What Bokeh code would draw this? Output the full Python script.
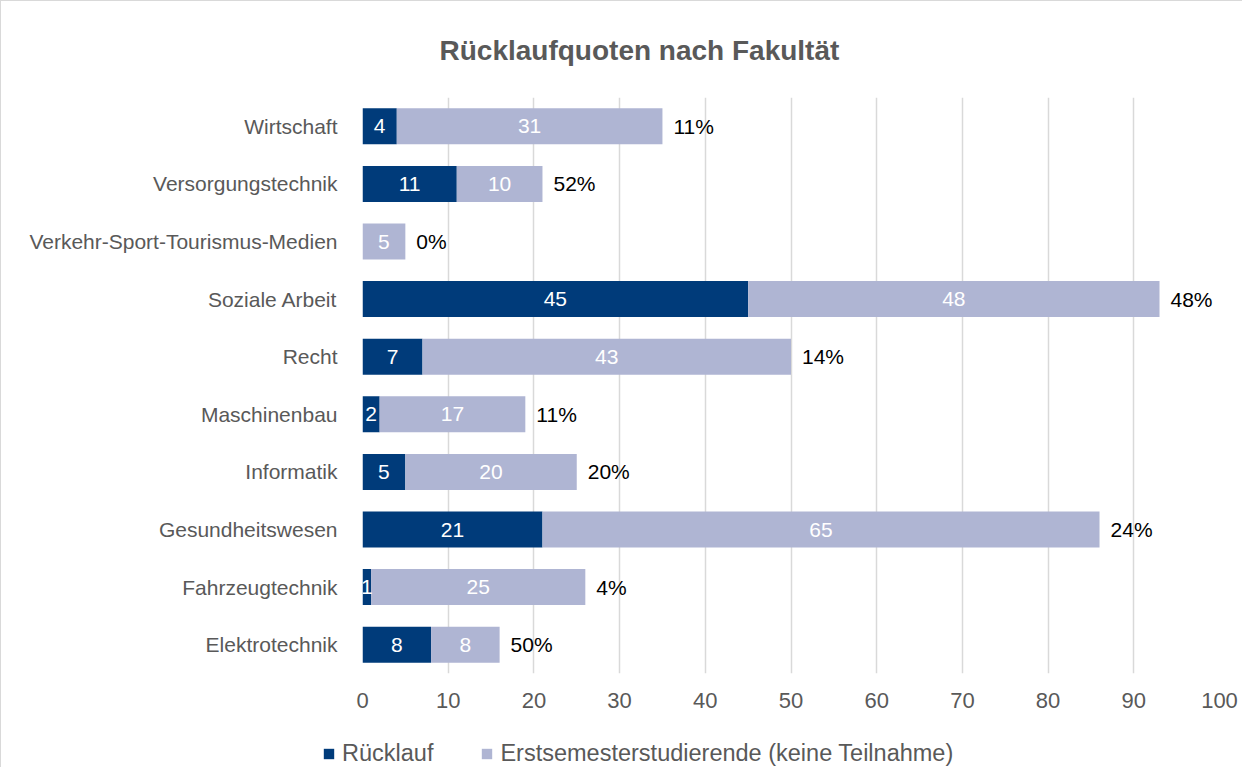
from bokeh.plotting import figure
from bokeh.layouts import column
from bokeh.models import (ColumnDataSource, FactorRange, Range1d, FixedTicker,
                          Legend, LegendItem)
from bokeh.core.properties import value
from bokeh.embed import file_html
from bokeh.resources import INLINE

# ---- data (bottom to top as drawn) ----
categories = ["Elektrotechnik", "Fahrzeugtechnik", "Gesundheitswesen", "Informatik",
              "Maschinenbau", "Recht", "Soziale Arbeit",
              "Verkehr-Sport-Tourismus-Medien", "Versorgungstechnik", "Wirtschaft"]
ruecklauf = [8, 1, 21, 5, 2, 7, 45, 0, 11, 4]
erstsemester = [8, 25, 65, 20, 17, 43, 48, 5, 10, 31]
quote_labels = ["50%", "4%", "24%", "20%", "11%", "14%", "48%", "0%", "52%", "11%"]
x_ticks = [0, 10, 20, 30, 40, 50, 60, 70, 80, 90, 100]
series_names = ["Rücklauf", "Erstsemesterstudierende (keine Teilnahme)"]
title_text = "Rücklaufquoten nach Fakultät"

DARK = "#003B7A"
LIGHT = "#AFB5D3"
GREY = "#595959"
FONT = "Liberation Sans"

r_end = [a for a in ruecklauf]
e_end = [a + b for a, b in zip(ruecklauf, erstsemester)]
src = ColumnDataSource(dict(
    cat=categories,
    l1=[0] * len(categories), r1=r_end,
    l2=r_end, r2=e_end,
    m1=[a / 2 for a in ruecklauf],
    m2=[a + b / 2 for a, b in zip(ruecklauf, erstsemester)],
    t1=[str(a) if a else "" for a in ruecklauf],
    t2=[str(b) if b else "" for b in erstsemester],
    total=e_end,
    pct=quote_labels,
))

W, H = 1241, 720
FL, FR, FT, FB = 361, 23, 96, 48

p = figure(width=W, height=H, output_backend="svg", toolbar_location=None,
           y_range=FactorRange(factors=categories, range_padding=0),
           x_range=Range1d(0, 100),
           min_border_left=FL, min_border_right=FR, min_border_top=FT,
           min_border_bottom=FB)
p.outline_line_color = None
p.background_fill_color = "white"
p.border_fill_color = "white"

r1 = p.hbar(y="cat", left="l1", right="r1", height=0.625, fill_color=DARK,
            line_color=None, source=src)
r2 = p.hbar(y="cat", left="l2", right="r2", height=0.625, fill_color=LIGHT,
            line_color=None, source=src)

p.text(x="m1", y="cat", text="t1", source=src, text_align="center",
       text_baseline="middle", text_color="white", text_font=value(FONT),
       text_font_size="21px")
p.text(x="m2", y="cat", text="t2", source=src, text_align="center",
       text_baseline="middle", text_color="white", text_font=value(FONT),
       text_font_size="21px")
p.text(x="total", y="cat", text="pct", source=src, x_offset=11, text_align="left",
       text_baseline="middle", text_color="black", text_font=value(FONT),
       text_font_size="21px")

# axes
p.xaxis.ticker = FixedTicker(ticks=x_ticks)
p.xaxis.major_label_text_font = FONT
p.xaxis.major_label_text_font_size = "22px"
p.xaxis.major_label_text_color = GREY
p.xaxis.major_tick_line_color = None
p.xaxis.minor_tick_line_color = None
p.xaxis.axis_line_color = None
p.xaxis.major_label_standoff = 13

p.yaxis.major_label_text_font = FONT
p.yaxis.major_label_text_font_size = "21px"
p.yaxis.major_label_text_color = GREY
p.yaxis.major_tick_line_color = None
p.yaxis.minor_tick_line_color = None
p.yaxis.axis_line_color = None
p.yaxis.major_label_standoff = 19

p.xgrid.grid_line_color = "#d9d9d9"
p.xgrid.grid_line_width = 1.5
p.ygrid.grid_line_color = None

# title
p.title.text = title_text
p.title.align = "left"
p.title.offset = 77
p.title.text_font = FONT
p.title.text_font_size = "28px"
p.title.text_font_style = "bold"
p.title.text_color = GREY
p.title.standoff = 63

# legend strip below the chart
lg = figure(width=W, height=46, output_backend="svg", toolbar_location=None,
            x_range=Range1d(0, 1), y_range=Range1d(0, 1),
            x_axis_location=None, y_axis_location=None, min_border=0)
lg.outline_line_color = None
lg.grid.visible = False
for fig in (p, lg):
    try:
        fig.frame_align = False
    except Exception:
        pass
# swatch renderers (kept outside the visible range; only used for the legend)
lr1 = lg.hbar(y=[-5], left=[0], right=[1], height=0.5, fill_color=DARK, line_color=None)
lr2 = lg.hbar(y=[-5], left=[0], right=[1], height=0.5, fill_color=LIGHT, line_color=None)
legend = Legend(items=[LegendItem(label=series_names[0], renderers=[lr1]),
                       LegendItem(label=series_names[1], renderers=[lr2])],
                orientation="horizontal", location=(321, 0),
                glyph_width=13, glyph_height=13, label_standoff=7, spacing=47,
                label_height=27, padding=0, margin=0, border_line_alpha=0,
                background_fill_alpha=0,
                label_text_font=FONT, label_text_font_size="23.5px",
                label_text_color=GREY)
lg.add_layout(legend)

layout = column(p, lg, spacing=0,
                styles={"border-left": "1px solid #d9d9d9",
                        "border-top": "1px solid #d9d9d9"})

open("out.html", "w").write(file_html(layout, INLINE))
